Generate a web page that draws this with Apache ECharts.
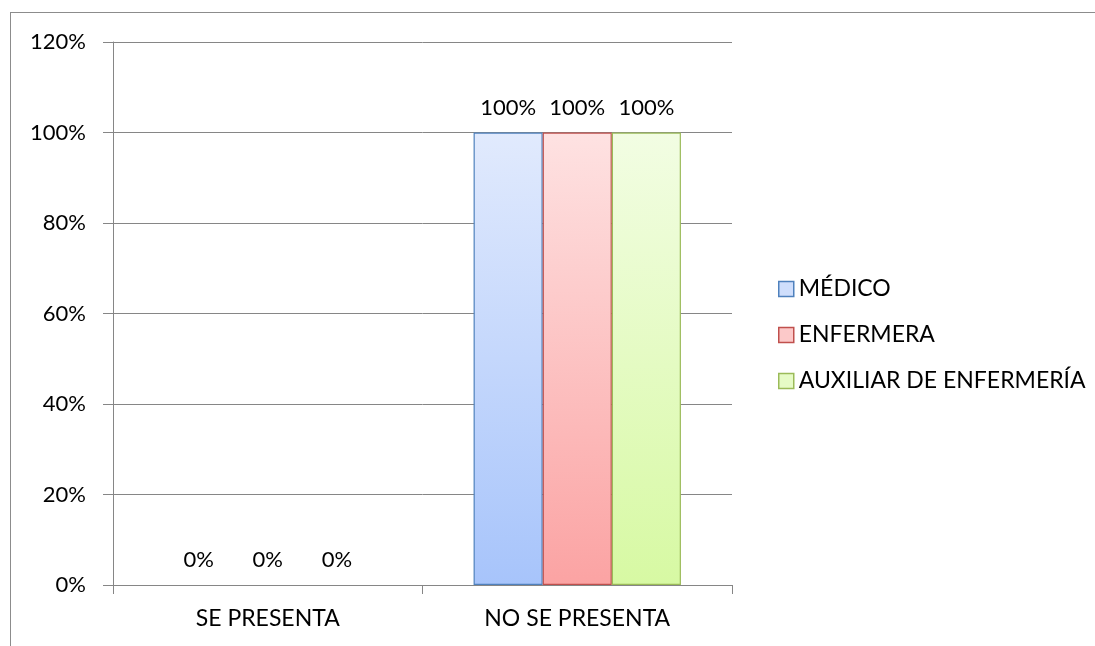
<!DOCTYPE html>
<html><head><meta charset="utf-8">
<script src="https://cdn.jsdelivr.net/npm/echarts@6/dist/echarts.min.js"></script>
<style>
html,body{margin:0;padding:0;background:#fff;}
#frame{position:absolute;left:10px;top:12px;width:1085px;height:634px;border-left:1.5px solid #8c8c8c;border-top:1.5px solid #8c8c8c;box-sizing:border-box;}
#c{position:absolute;left:0;top:0;width:1095px;height:646px;}
</style></head>
<body>
<div id="frame"></div>
<div id="c"></div>
<script>
const categories = ['SE PRESENTA', 'NO SE PRESENTA'];
const seriesNames = ['MÉDICO', 'ENFERMERA', 'AUXILIAR DE ENFERMERÍA'];
const medico = [0, 100];
const enfermera = [0, 100];
const auxiliar = [0, 100];
const yTicks = [0, 20, 40, 60, 80, 100, 120];

const styles = [
  {top:'#e1eafd', bottom:'#a7c4fb', border:'#4f81bd', legend:'#cfdefc'},
  {top:'#fee2e2', bottom:'#fba3a3', border:'#c0504d', legend:'#fcc9c9'},
  {top:'#f2fde3', bottom:'#d7f9a3', border:'#9bbb59', legend:'#e6fbc6'}
];
const values = [medico, enfermera, auxiliar];
const font = 'Lato, "Open Sans", sans-serif';

const chart = echarts.init(document.getElementById('c'), null, {renderer:'canvas'});
chart.setOption({
  animation:false,
  textStyle:{fontFamily:font},
  grid:{left:113, right:363, top:42, bottom:61, containLabel:false},
  legend:{
    orient:'vertical', left:773, top:271, itemWidth:15, itemHeight:15, itemGap:20,
    icon:'rect',
    textStyle:{fontSize:23, color:'#000', fontFamily:font, lineHeight:26},
    data: seriesNames.map((n,i)=>({name:n, itemStyle:{color:styles[i].legend, borderColor:styles[i].border, borderWidth:1.5}}))
  },
  xAxis:{
    type:'category', data:categories,
    axisLine:{lineStyle:{color:'#868686', width:1}},
    axisTick:{show:true, length:9, lineStyle:{color:'#868686'}},
    axisLabel:{color:'#000', fontSize:23, margin:22, fontFamily:font}
  },
  yAxis:{
    type:'value', min:0, max:120, interval:20,
    axisLine:{show:true, lineStyle:{color:'#868686'}},
    axisTick:{show:true, length:10, inside:false, lineStyle:{color:'#868686'}},
    splitLine:{show:true, lineStyle:{color:'#868686', width:1}},
    axisLabel:{color:'#000', fontSize:22, margin:27, fontFamily:font, formatter: v => yTicks.includes(v) ? v + '%' : ''}
  },
  series: seriesNames.map((n,i)=>({
    name:n, type:'bar', barGap:'0%', barCategoryGap:'33%',
    data: values[i].map(v => v === 0 ? {value:v, itemStyle:{borderWidth:0, borderColor:'rgba(0,0,0,0)', color:'rgba(0,0,0,0)'}} : v),
    itemStyle:{
      color:new echarts.graphic.LinearGradient(0,0,0,1,[{offset:0,color:styles[i].top},{offset:1,color:styles[i].bottom}]),
      borderColor:styles[i].border, borderWidth:1.2
    },
    label:{show:true, position:'top', distance:14, formatter: p => p.value + '%', color:'#000', fontSize:22, fontFamily:font}
  }))
});
</script>
</body></html>
